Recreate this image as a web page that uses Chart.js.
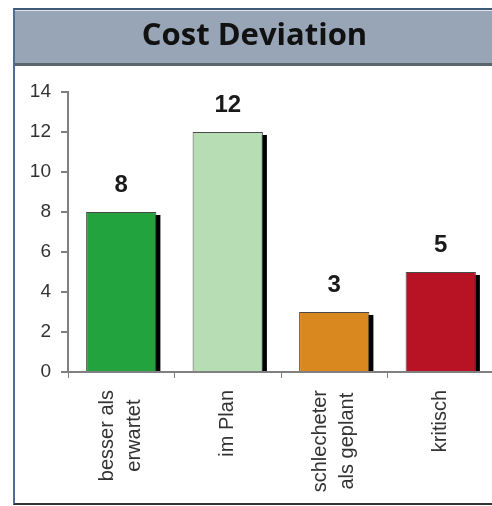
<!DOCTYPE html>
<html>
<head>
<meta charset="utf-8">
<script src="https://cdn.jsdelivr.net/npm/chart.js@4"></script>
<style>
  html, body { margin: 0; padding: 0; background: #fff; overflow: hidden; }
  #frame {
    position: absolute; left: 13px; top: 8px; width: 482px; height: 493px;
    border-left: 2px solid #4e6d8f; border-top: 2px solid #3f5a78; border-bottom: 2px solid #333;
  }
  canvas { display: block; }
</style>
</head>
<body>
<div id="frame"><canvas id="chart" width="482" height="493"></canvas></div>
<script>
const categories = [['besser als', 'erwartet'], ['im Plan'], ['schlecheter', 'als geplant'], ['kritisch']];
const counts = [8, 12, 3, 5];
const barColors = ['#22a33e', '#b6ddb4', '#d9881f', '#b81325'];
const yTicks = [0, 2, 4, 6, 8, 10, 12, 14];

const labelFont = "'Liberation Sans', Arial, sans-serif";
const xLineHeight = 27;

// grey-blue band behind the title
const headerBand = {
    id: 'headerBand',
    beforeDraw(chart) {
        const ctx = chart.ctx;
        ctx.save();
        ctx.fillStyle = '#dfe5ec';
        ctx.fillRect(0, 0, chart.width, 1);
        ctx.fillStyle = '#97a5b6';
        ctx.fillRect(0, 1, chart.width, 52);
        ctx.fillStyle = '#5b6570';
        ctx.fillRect(0, 53, chart.width, 3);
        ctx.restore();
    }
};

// black drop shadow to the right of each bar
const barShadow = {
    id: 'barShadow',
    beforeDatasetsDraw(chart) {
        const ctx = chart.ctx;
        ctx.save();
        ctx.fillStyle = '#000';
        chart.getDatasetMeta(0).data.forEach(bar => {
            const w = bar.width;
            ctx.fillRect(bar.x - w / 2 + 4, bar.y + 3, w, bar.base - bar.y - 3);
        });
        ctx.restore();
    }
};

// value above each bar
const valueLabels = {
    id: 'valueLabels',
    afterDatasetsDraw(chart) {
        const ctx = chart.ctx;
        ctx.save();
        ctx.font = 'bold 24px ' + labelFont;
        ctx.fillStyle = '#1a1a1a';
        ctx.textAlign = 'center';
        ctx.textBaseline = 'alphabetic';
        chart.getDatasetMeta(0).data.forEach((bar, i) => {
            ctx.fillText(String(counts[i]), bar.x, bar.y - 20);
        });
        ctx.restore();
    }
};

// vertical category labels, lines centred on the tick and on each other
const xLabels = {
    id: 'xLabels',
    afterDraw(chart) {
        const ctx = chart.ctx;
        const xs = chart.scales.x;
        const top = xs.top + 18;
        ctx.save();
        ctx.font = '20px ' + labelFont;
        ctx.fillStyle = '#333';
        ctx.textAlign = 'center';
        ctx.textBaseline = 'middle';
        categories.forEach((lines, i) => {
            const maxW = Math.max(...lines.map(l => ctx.measureText(l).width));
            ctx.save();
            ctx.translate(xs.getPixelForTick(i), top);
            ctx.rotate(-Math.PI / 2);
            lines.forEach((line, j) => {
                const off = (j - (lines.length - 1) / 2) * xLineHeight;
                ctx.fillText(line, -maxW / 2, off);
            });
            ctx.restore();
        });
        ctx.restore();
    }
};

new Chart(document.getElementById('chart'), {
    type: 'bar',
    data: {
        labels: categories,
        datasets: [{
            data: counts,
            backgroundColor: barColors,
            borderColor: '#4a4a4a',
            borderWidth: 1,
            barPercentage: 0.66,
            categoryPercentage: 1
        }]
    },
    options: {
        responsive: false,
        animation: false,
        devicePixelRatio: 1,
        layout: { padding: { left: 0, right: 3, top: 0, bottom: 0 } },
        plugins: {
            legend: { display: false },
            tooltip: { enabled: false },
            title: {
                display: true,
                text: 'Cost Deviation',
                color: '#111',
                font: { family: "'Open Sans', sans-serif", size: 31, weight: 'bold', lineHeight: 1.2 },
                padding: { top: 8, bottom: 36.8 }
            }
        },
        scales: {
            x: {
                offset: true,
                grid: { offset: true, drawOnChartArea: false, tickLength: 6, color: '#808080', lineWidth: 1 },
                border: { display: true, color: '#808080', width: 2 },
                ticks: { display: false },
                afterFit: s => { s.height = 131; }
            },
            y: {
                min: yTicks[0],
                max: yTicks[yTicks.length - 1],
                afterBuildTicks: s => { s.ticks = yTicks.map(v => ({ value: v })); },
                grid: { drawOnChartArea: false, tickLength: 7, color: '#808080', lineWidth: 2 },
                border: { display: true, color: '#808080', width: 2 },
                ticks: { color: '#333', font: { family: labelFont, size: 19 }, padding: 10 },
                afterFit: s => { s.width = 53; }
            }
        }
    },
    plugins: [headerBand, barShadow, valueLabels, xLabels]
});
</script>
</body>
</html>
